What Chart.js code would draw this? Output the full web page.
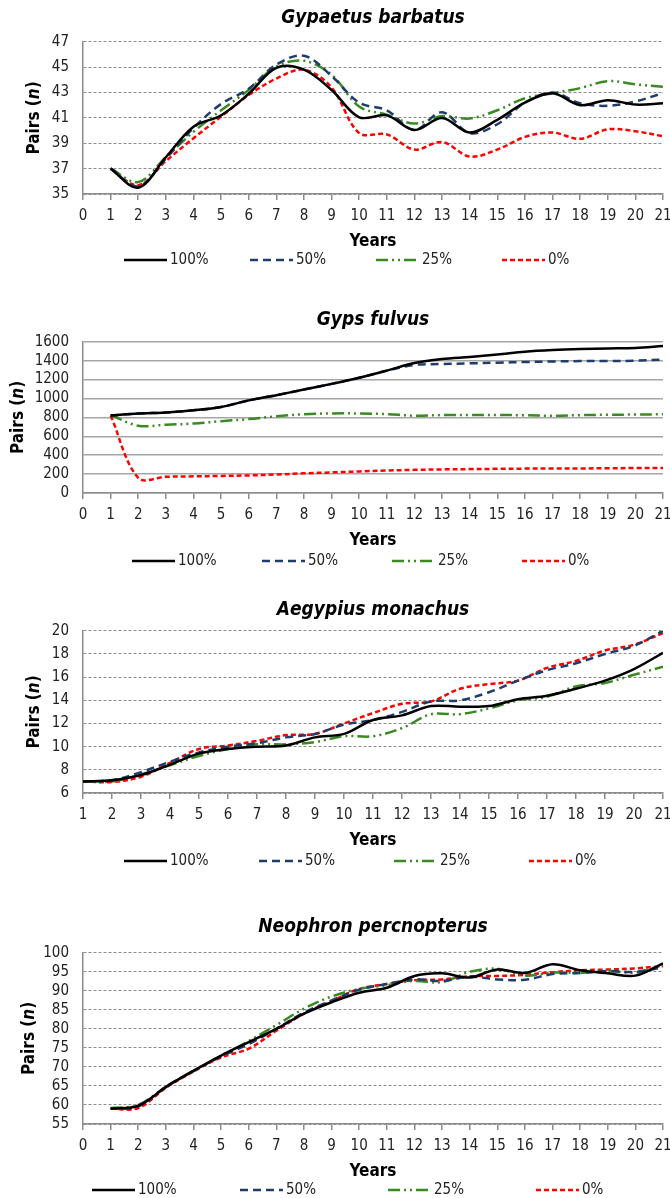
<!DOCTYPE html>
<html>
<head>
<meta charset="utf-8">
<script src="https://cdn.jsdelivr.net/npm/chart.js@4.4.1/dist/chart.umd.min.js"></script>
<style>
    html, body { margin: 0; padding: 0; background: #fff; width: 670px; height: 1198px; overflow: hidden; }
    canvas { position: absolute; left: 0; }
</style>
</head>
<body>
<canvas id="gypaetus" width="670" height="272" style="top:0px"></canvas>
<canvas id="gyps" width="670" height="269" style="top:302px"></canvas>
<canvas id="aegypius" width="670" height="279" style="top:592px"></canvas>
<canvas id="neophron" width="670" height="289" style="top:909px"></canvas>
<script>
// x values (years) and scenario names
const years = [1, 2, 3, 4, 5, 6, 7, 8, 9, 10, 11, 12, 13, 14, 15, 16, 17, 18, 19, 20, 21];
const scenarios = ['100%', '50%', '25%', '0%'];

// Gypaetus barbatus
const gypaetus100 = [37, 35.5, 37.9, 40.3, 41.2, 42.9, 44.95, 44.8, 43.2, 41.05, 41.2, 40.05, 41.0, 39.85, 40.85, 42.2, 42.95, 42.0, 42.4, 42.05, 42.15];
const gypaetus50 = [37, 35.6, 37.8, 40.2, 42.1, 43.3, 45.2, 45.9, 44.3, 42.2, 41.6, 40.05, 41.45, 39.8, 40.5, 42.2, 43.0, 42.15, 41.95, 42.3, 42.95];
const gypaetus25 = [37, 35.95, 37.9, 39.9, 41.6, 43.2, 45.05, 45.5, 44.4, 41.9, 41.25, 40.55, 41.15, 40.95, 41.6, 42.55, 42.95, 43.35, 43.9, 43.65, 43.45];
const gypaetus0 = [37, 35.7, 37.6, 39.4, 41.1, 42.8, 44.1, 44.8, 43.4, 39.8, 39.7, 38.5, 39.1, 37.95, 38.5, 39.5, 39.85, 39.35, 40.1, 39.95, 39.55];

// Gyps fulvus
const gyps100 = [820, 840, 852, 875, 910, 980, 1035, 1095, 1155, 1220, 1295, 1375, 1418, 1440, 1465, 1495, 1513, 1524, 1530, 1535, 1555];
const gyps50 = [820, 840, 852, 875, 910, 980, 1035, 1095, 1155, 1220, 1295, 1355, 1365, 1372, 1379, 1386, 1392, 1396, 1397, 1400, 1412];
const gyps25 = [825, 712, 722, 735, 760, 782, 812, 833, 842, 842, 835, 818, 825, 826, 826, 822, 818, 824, 828, 830, 833];
const gyps0 = [820, 160, 172, 176, 181, 186, 196, 208, 218, 228, 238, 245, 250, 253, 256, 258, 260, 260, 262, 264, 265];

// Aegypius monachus
const aegypius100 = [7.0, 7.1, 7.55, 8.45, 9.4, 9.8, 10.0, 10.1, 10.8, 11.1, 12.3, 12.7, 13.5, 13.45, 13.5, 14.1, 14.4, 15.0, 15.7, 16.7, 18.1];
const aegypius50 = [7.0, 7.1, 7.8, 8.7, 9.5, 10.0, 10.3, 10.8, 11.1, 11.9, 12.3, 13.0, 13.9, 14.0, 14.7, 15.7, 16.6, 17.2, 18.0, 18.7, 20.0];
const aegypius25 = [7.0, 7.0, 7.6, 8.4, 9.2, 9.8, 10.2, 10.2, 10.4, 10.9, 10.9, 11.6, 12.8, 12.8, 13.3, 14.0, 14.3, 15.2, 15.5, 16.2, 16.9];
const aegypius0 = [7.0, 6.95, 7.4, 8.6, 9.8, 10.1, 10.5, 11.0, 11.1, 12.0, 12.9, 13.7, 13.9, 15.0, 15.4, 15.7, 16.8, 17.4, 18.3, 18.8, 19.8];

// Neophron percnopterus
const neophron100 = [59, 59.8, 64.7, 69.0, 73.0, 76.5, 80.0, 84.0, 87.0, 89.5, 90.8, 93.9, 94.6, 93.5, 95.6, 94.7, 97.0, 95.4, 94.6, 94.0, 97.2];
const neophron50 = [59, 59.6, 64.8, 68.9, 72.8, 76.0, 80.0, 84.3, 87.5, 90.3, 91.8, 93.0, 92.6, 93.7, 93.0, 92.9, 94.4, 94.7, 95.2, 95.0, 96.2];
const neophron25 = [59.2, 60.0, 64.8, 69.0, 72.9, 76.8, 81.0, 85.3, 88.5, 90.5, 91.5, 92.6, 92.3, 95.0, 95.8, 94.0, 94.8, 94.7, 95.2, 94.8, 96.8];
const neophron0 = [59, 59.2, 64.5, 68.8, 72.5, 74.8, 79.5, 84.0, 87.3, 90.5, 91.8, 92.8, 93.0, 93.8, 93.9, 94.2, 94.9, 95.4, 95.6, 95.9, 96.5];

const FONT = '"Liberation Sans Narrow", "DejaVu Sans Condensed", "Liberation Sans", sans-serif';
const AXIS_GRAY = '#8c8c8c';
const TEXT = '#222';

const styles = [
    { color: '#000000', dash: [], width: 2.5 },
    { color: '#1f3c6b', dash: [8, 5], width: 2.5 },
    { color: '#3a8a22', dash: [12, 4, 2, 4, 2, 4], width: 2.5 },
    { color: '#ff0000', dash: [5, 3], width: 2.5 },
];

// y axis title with italic n
const yTitlePlugin = {
    id: 'yTitle',
    afterDraw(chart, args, o) {
        const { ctx, chartArea } = chart;
        const parts = [['Pairs (', 'bold'], ['n', 'italic bold'], [')', 'bold']];
        ctx.save();
        ctx.translate(o.x, (chartArea.top + chartArea.bottom) / 2);
        ctx.rotate(-Math.PI / 2);
        ctx.textBaseline = 'middle';
        ctx.fillStyle = '#000';
        let total = 0;
        parts.forEach(p => { ctx.font = p[1] + ' 17px ' + FONT; total += ctx.measureText(p[0]).width; });
        let x = -total / 2;
        parts.forEach(p => {
            ctx.font = p[1] + ' 17px ' + FONT;
            ctx.fillText(p[0], x, 0);
            x += ctx.measureText(p[0]).width;
        });
        ctx.restore();
    }
};

// legend laid out in wide slots like the original
const legendPlugin = {
    id: 'spreadLegend',
    afterDraw(chart, args, o) {
        const { ctx, chartArea } = chart;
        const y = chartArea.bottom + o.offset;
        ctx.save();
        ctx.font = '15px ' + FONT;
        ctx.textBaseline = 'middle';
        chart.data.datasets.forEach((ds, i) => {
            const x = o.start + i * o.step;
            ctx.beginPath();
            ctx.setLineDash(ds.borderDash);
            ctx.strokeStyle = ds.borderColor;
            ctx.lineWidth = ds.borderWidth;
            ctx.moveTo(x, y);
            ctx.lineTo(x + 43, y);
            ctx.stroke();
            ctx.setLineDash([]);
            ctx.fillStyle = TEXT;
            ctx.fillText(ds.label, x + 46, y);
        });
        ctx.restore();
    }
};

function makeChart(id, o) {
    return new Chart(document.getElementById(id), {
        type: 'line',
        data: {
            datasets: o.series.map((vals, i) => ({
                label: scenarios[i],
                data: years.map((yr, j) => ({ x: yr, y: vals[j] })),
                borderColor: styles[i].color,
                borderDash: styles[i].dash,
                borderWidth: styles[i].width,
                pointRadius: 0,
                tension: 0.35,
                fill: false,
            })),
        },
        options: {
            responsive: false,
            animation: false,
            events: [],
            layout: { padding: { left: 0, right: 7, top: 0, bottom: o.padBottom } },
            plugins: {
                legend: { display: false },
                tooltip: { enabled: false },
                title: {
                    display: true,
                    text: o.title,
                    fullSize: false,
                    color: '#000',
                    font: { family: FONT, size: 19, weight: 'bold', style: 'italic', lineHeight: 1.2 },
                    padding: { top: 7, bottom: o.titleGap },
                },
                spreadLegend: o.legend,
                yTitle: { x: o.yTitleX },
            },
            scales: {
                x: {
                    type: 'linear',
                    min: o.xMin,
                    max: 21,
                    afterFit: s => { s.height = 58; s.paddingLeft = 0; s.paddingRight = 0; },
                    ticks: { stepSize: 1, autoSkip: false, maxRotation: 0, color: TEXT, padding: 7, font: { family: FONT, size: 15 } },
                    grid: { drawOnChartArea: false, drawTicks: true, tickLength: 6, color: AXIS_GRAY, lineWidth: 1.5 },
                    border: { color: AXIS_GRAY, width: 1.5 },
                    title: { display: true, text: 'Years', color: '#000', font: { family: FONT, size: 17, weight: 'bold' }, padding: { top: 0, bottom: 0 } },
                },
                y: {
                    min: o.yMin,
                    max: o.yMax,
                    afterFit: s => { s.width = 83; },
                    ticks: {
                        stepSize: o.yStep, autoSkip: false, color: TEXT, padding: 14, font: { family: FONT, size: 15 },
                        callback: v => String(v),
                    },
                    grid: { color: o.gridColor, lineWidth: o.gridWidth, drawTicks: false },
                    border: { color: AXIS_GRAY, width: 1.5, dash: o.gridDash },
                },
            },
        },
        plugins: [yTitlePlugin, legendPlugin],
    });
}

const gypaetusChart = makeChart('gypaetus', {
    title: 'Gypaetus barbatus',
    series: [gypaetus100, gypaetus50, gypaetus25, gypaetus0],
    xMin: 0, yMin: 35, yMax: 47, yStep: 2,
    titleGap: 12, padBottom: 20, yTitleX: 35,
    gridColor: AXIS_GRAY, gridWidth: 1, gridDash: [3, 2],
    legend: { start: 124, step: 126, offset: 66 },
});

const gypsChart = makeChart('gyps', {
    title: 'Gyps fulvus',
    series: [gyps100, gyps50, gyps25, gyps0],
    xMin: 0, yMin: 0, yMax: 1600, yStep: 200,
    titleGap: 10, padBottom: 20, yTitleX: 19,
    gridColor: '#a6a6a6', gridWidth: 1.5, gridDash: [],
    legend: { start: 132, step: 130, offset: 68 },
});

const aegypiusChart = makeChart('aegypius', {
    title: 'Aegypius monachus',
    series: [aegypius100, aegypius50, aegypius25, aegypius0],
    xMin: 1, yMin: 6, yMax: 20, yStep: 2,
    titleGap: 9, padBottom: 20, yTitleX: 35,
    gridColor: AXIS_GRAY, gridWidth: 1, gridDash: [3, 2],
    legend: { start: 124, step: 135, offset: 68 },
});

const neophronChart = makeChart('neophron', {
    title: 'Neophron percnopterus',
    series: [neophron100, neophron50, neophron25, neophron0],
    xMin: 0, yMin: 55, yMax: 100, yStep: 5,
    titleGap: 14, padBottom: 16, yTitleX: 30,
    gridColor: AXIS_GRAY, gridWidth: 1, gridDash: [3, 2],
    legend: { start: 92, step: 148, offset: 66 },
});
</script>
</body>
</html>
